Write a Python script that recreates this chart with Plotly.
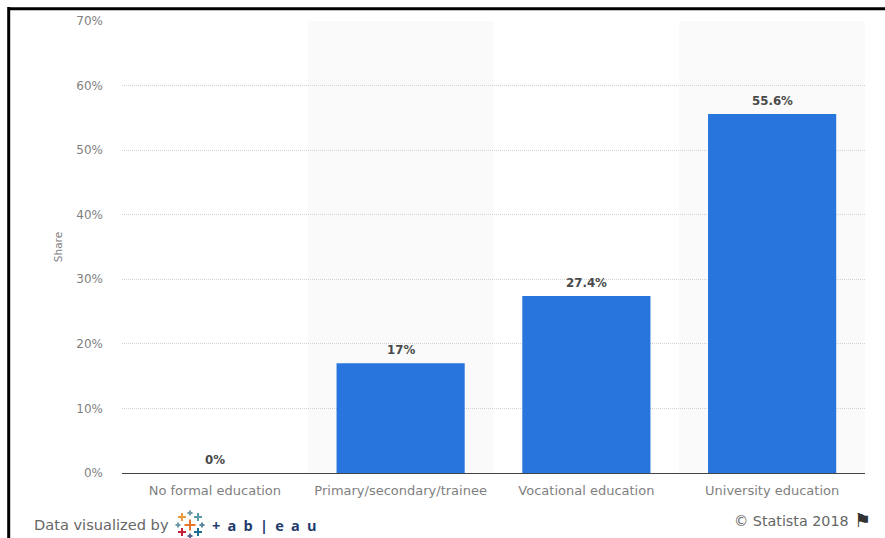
import plotly.graph_objects as go

categories = ["No formal education", "Primary/secondary/trainee", "Vocational education", "University education"]
values = [0, 17, 27.4, 55.6]
value_labels = ["0%", "17%", "27.4%", "55.6%"]
y_ticks = [0, 10, 20, 30, 40, 50, 60, 70]
shaded_categories = [1, 3]

W, H = 885, 538
L, R, T, B = 122, 865, 21, 473
GREY = "#7f7f7f"
FONT = "DejaVu Sans"


def px(x):
    return (x - L) / (R - L)


def py(y):
    return (B - y) / (B - T)


fig = go.Figure(go.Bar(
    x=categories, y=values, width=0.69,
    marker=dict(color="#2876dd", line=dict(width=0)),
    hoverinfo="skip",
))

shapes = [
    dict(type="rect", xref="x", yref="paper", x0=i - 0.5, x1=i + 0.5, y0=0, y1=1,
         fillcolor="#fafafa", line=dict(width=0), layer="below")
    for i in shaded_categories
]
shapes += [
    dict(type="line", xref="paper", yref="paper", x0=px(8.5), x1=px(885), y0=py(8.7), y1=py(8.7),
         line=dict(color="#000000", width=3)),
    dict(type="line", xref="paper", yref="paper", x0=px(8.7), x1=px(8.7), y0=py(7), y1=py(538),
         line=dict(color="#000000", width=3)),
]

logo_crosses = [
    (190, 525, 5.5, "#e8762b"), (182, 517, 4, "#eb9b3c"), (198, 517, 4, "#5b9aa8"),
    (190, 513, 2.5, "#7099a6"), (182, 532, 4, "#c72035"), (198, 532, 4, "#1f6f8e"),
    (190, 536, 2.5, "#5b6591"), (178, 525, 2.5, "#7099a6"), (202, 525, 2.5, "#59879b"),
]
for x, y, half, color in logo_crosses:
    for dx, dy in ((half, 0), (0, half)):
        shapes.append(dict(type="line", xref="paper", yref="paper",
                           x0=px(x - dx), x1=px(x + dx), y0=py(y - dy), y1=py(y + dy),
                           line=dict(color=color, width=2)))


def note(x, y, text, size, color, anchor="left", family=FONT, **kw):
    return dict(xref="paper", yref="paper", x=px(x), y=py(y), text=text, showarrow=False,
                xanchor=anchor, yanchor="middle", font=dict(family=family, size=size, color=color),
                **kw)


annotations = [
    note(32, 524, "Data visualized by", 14.6, "#666666"),
    note(851, 521, "© Statista 2018", 14.3, "#666666", anchor="right"),
    note(852, 520, "⚑", 19, "#333333"),
    note(210, 525, "<b>+\u2002a\u2002b\u2002|\u2002e\u2002a\u2002u</b>", 14.5, "#1f3a6e", family="Open Sans"),
]
for cat, val, label in zip(categories, values, value_labels):
    annotations.append(dict(
        x=cat, y=val, text=label, showarrow=False, yshift=13, yanchor="middle",
        font=dict(family=FONT, size=11.8, color="#4a4a4a", weight="bold"),
    ))

fig.update_layout(
    width=W, height=H,
    margin=dict(l=L, r=W - R, t=T, b=H - B, pad=0, autoexpand=False),
    paper_bgcolor="#ffffff", plot_bgcolor="rgba(0,0,0,0)",
    showlegend=False, shapes=shapes, annotations=annotations,
    font=dict(family=FONT, color=GREY),
    xaxis=dict(
        type="category", range=[-0.5, 3.5], showgrid=False, ticks="", showline=True,
        linecolor="#444444", linewidth=1.2, ticklabelstandoff=5,
        tickfont=dict(family=FONT, size=13, color=GREY),
    ),
    yaxis=dict(
        range=[0, 70], tickvals=y_ticks, ticktext=[f"{v}%" for v in y_ticks],
        showgrid=True, gridcolor="#d2d2d2", gridwidth=1, griddash="1px,1px",
        zeroline=False, ticks="", ticklabelstandoff=18,
        tickfont=dict(family=FONT, size=12, color=GREY),
        title=dict(text="Share", font=dict(family=FONT, size=10.5, color=GREY), standoff=11),
    ),
)

fig.write_html("out.html", config=dict(displayModeBar=False),
               post_script="document.body.style.margin='0';")
